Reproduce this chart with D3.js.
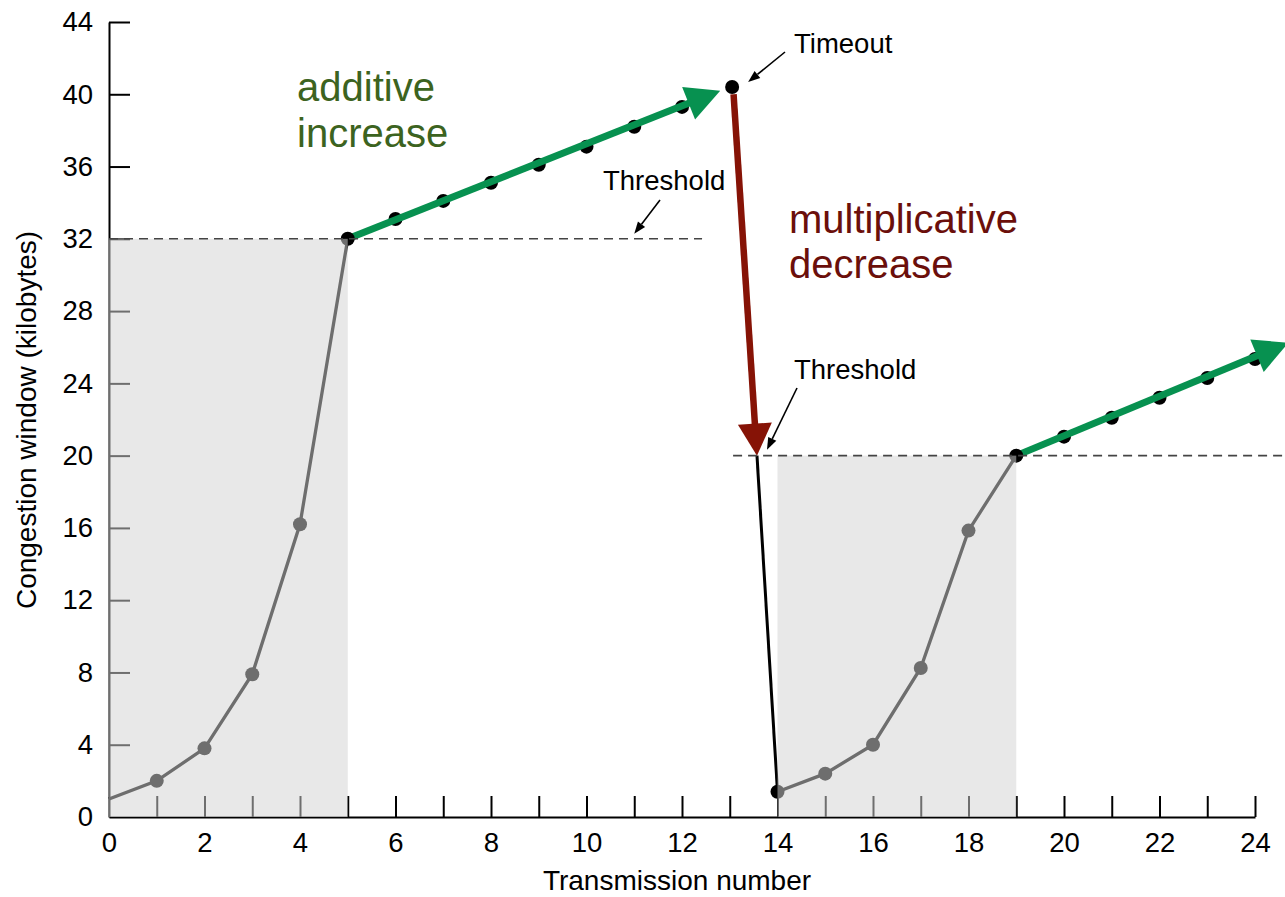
<!DOCTYPE html>
<html><head><meta charset="utf-8">
<script src="https://cdn.jsdelivr.net/npm/d3@7"></script>
<style>
html,body{margin:0;padding:0;background:#fff;}
svg{display:block;font-family:"Liberation Sans",Arial,Helvetica,sans-serif;}
</style>
</head><body>
<svg id="chart" width="1285" height="897"></svg>
<script>
// ---- data ----
const xTickValues = d3.range(0, 25);
const xTickLabels = [0, 2, 4, 6, 8, 10, 12, 14, 16, 18, 20, 22, 24];
const yTickValues = [0, 4, 8, 12, 16, 20, 24, 28, 32, 36, 40, 44];

const slowStart1X = [0, 1, 2, 3, 4, 5];
const slowStart1Y = [1, 2, 3.8, 7.9, 16.2, 32];
const additive1X = [6, 7, 8, 9, 10, 11, 12];
const additive1Y = [33.1, 34.1, 35.1, 36.1, 37.1, 38.2, 39.3];
const timeoutPoint = [13.05, 40.4];
const additive1Arrow = [[5, 32], [12.8, 40.2]];
const decreaseArrow = [[13.08, 40.0], [13.57, 20]];
const dropLine = [[13.57, 20], [14, 1.4]];
const slowStart2X = [14, 15, 16, 17, 18, 19];
const slowStart2Y = [1.4, 2.4, 4.0, 8.25, 15.85, 20];
const additive2X = [20, 21, 22, 23, 24];
const additive2Y = [21.05, 22.1, 23.2, 24.3, 25.35];
const additive2Arrow = [[19, 20], [24.7, 26.25]];
const threshold1 = {value: 32, from: 0, to: 12.42};
const threshold2 = {value: 20, from: 13.07, to: 24.7};
const shade1 = {x0: 0, x1: 5, top: 32};
const shade2 = {x0: 14, x1: 19, top: 20};

// ---- scales ----
const svg = d3.select("#chart");
const x = d3.scaleLinear().domain([0, 24]).range([109, 1255]);
const y = d3.scaleLinear().domain([0, 44]).range([817, 22]);

const GREEN = "#079150", RED = "#861306", TXT_GREEN = "#3c6320", TXT_RED = "#6b0f0b";
const FS = 27.5;

// ---- axes ----
const yAxis = d3.axisLeft(y).tickValues(yTickValues).tickSizeInner(-21).tickSizeOuter(0).tickPadding(16);
const gy = svg.append("g").attr("transform", `translate(${x(0)},0)`).call(yAxis);
const xAxis = d3.axisBottom(x).tickValues(xTickValues).tickSizeInner(-21).tickSizeOuter(0).tickPadding(15)
  .tickFormat(d => d);
const gx = svg.append("g").attr("transform", `translate(0,${y(0)})`).call(xAxis);
gx.selectAll(".tick").filter(d => !xTickLabels.includes(d)).select("text").remove();
gx.selectAll(".tick").filter(d => d === 0).select("line").remove();
gy.selectAll(".tick").filter(d => d === 0).select("line").remove();
[gx, gy].forEach(g => {
  g.attr("font-family", null).attr("font-size", FS);
  g.select(".domain").attr("stroke", "#000").attr("stroke-width", 2);
  g.selectAll(".tick line").attr("stroke", "#000").attr("stroke-width", 2);
  g.selectAll(".tick text").attr("fill", "#000").attr("font-size", FS);
});

// ---- slow start curves & points ----
const line = d3.line().x(d => x(d[0])).y(d => y(d[1]));
const ss1 = slowStart1X.map((v, i) => [v, slowStart1Y[i]]);
const ss2 = slowStart2X.map((v, i) => [v, slowStart2Y[i]]);
const ad1 = additive1X.map((v, i) => [v, additive1Y[i]]);
const ad2 = additive2X.map((v, i) => [v, additive2Y[i]]);

svg.append("path").attr("d", line(ss1)).attr("fill", "none").attr("stroke", "#000").attr("stroke-width", 3.3);
svg.append("path").attr("d", line(ss2)).attr("fill", "none").attr("stroke", "#000").attr("stroke-width", 3.3);
svg.append("path").attr("d", line(dropLine)).attr("fill", "none").attr("stroke", "#000").attr("stroke-width", 3);

const dotR = 7;
const dots = svg.append("g");
dots.selectAll("circle").data(ss1.slice(1, -1).concat(ss2.slice(1, -1)).concat(ad1).concat(ad2))
  .join("circle").attr("cx", d => x(d[0])).attr("cy", d => y(d[1])).attr("r", dotR).attr("fill", "#000");

// ---- arrows ----
function arrow(p0, p1, L, W, width, color) {
  const x0 = x(p0[0]), y0 = y(p0[1]), x1 = x(p1[0]), y1 = y(p1[1]);
  const dx = x1 - x0, dy = y1 - y0, len = Math.hypot(dx, dy);
  const ux = dx / len, uy = dy / len, nx = -uy, ny = ux;
  const bx = x1 - ux * L, by = y1 - uy * L;
  svg.append("line").attr("x1", x0).attr("y1", y0).attr("x2", bx + ux * 2).attr("y2", by + uy * 2)
    .attr("stroke", color).attr("stroke-width", width);
  svg.append("path").attr("d", `M${x1},${y1}L${bx + nx * W / 2},${by + ny * W / 2}L${bx - nx * W / 2},${by - ny * W / 2}Z`)
    .attr("fill", color);
}
arrow(additive1Arrow[0], additive1Arrow[1], 34, 35, 7, GREEN);
arrow(additive2Arrow[0], additive2Arrow[1], 34, 35, 7, GREEN);
arrow(decreaseArrow[0], decreaseArrow[1], 32, 34, 6.5, RED);

// end-point dots on top
const topDots = [ss1[ss1.length - 1], ss2[0], ss2[ss2.length - 1], timeoutPoint];
svg.append("g").selectAll("circle").data(topDots).join("circle")
  .attr("cx", d => x(d[0])).attr("cy", d => y(d[1])).attr("r", dotR).attr("fill", "#000");

// ---- shaded slow-start regions (translucent overlay) ----
[shade1, shade2].forEach(s => {
  svg.append("rect").attr("x", x(s.x0)).attr("y", y(s.top)).attr("width", x(s.x1) - x(s.x0))
    .attr("height", y(0) - y(s.top)).attr("fill", "rgb(211,211,211)").attr("fill-opacity", 0.52);
});

// ---- thresholds ----
[threshold1, threshold2].forEach(t => {
  svg.append("line").attr("x1", x(t.from)).attr("x2", x(t.to)).attr("y1", y(t.value)).attr("y2", y(t.value))
    .attr("stroke", "#444").attr("stroke-width", 1.6).attr("stroke-dasharray", "9,6");
});

// ---- small annotation arrows ----
function smallArrow(x0, y0, x1, y1) {
  const dx = x1 - x0, dy = y1 - y0, len = Math.hypot(dx, dy);
  const ux = dx / len, uy = dy / len, nx = -uy, ny = ux, L = 12, W = 9;
  const bx = x1 - ux * L, by = y1 - uy * L;
  svg.append("line").attr("x1", x0).attr("y1", y0).attr("x2", bx).attr("y2", by).attr("stroke", "#000").attr("stroke-width", 1.6);
  svg.append("path").attr("d", `M${x1},${y1}L${bx + nx * W / 2},${by + ny * W / 2}L${bx - nx * W / 2},${by - ny * W / 2}Z`).attr("fill", "#000");
}
smallArrow(785, 52, x(timeoutPoint[0]) + 16, y(timeoutPoint[1]) - 5);
smallArrow(660, 200, x(11.0), y(threshold1.value) - 5);
smallArrow(797, 388, x(13.78), y(threshold2.value) - 6);

// ---- text ----
const anno = [
  {t: "Timeout", x: 794, y: 53, s: 27.5, c: "#000"},
  {t: "Threshold", x: 603, y: 190, s: 27.5, c: "#000"},
  {t: "Threshold", x: 794, y: 379, s: 27.5, c: "#000"},
  {t: "additive", x: 297, y: 101, s: 40, c: TXT_GREEN},
  {t: "increase", x: 297, y: 147, s: 40, c: TXT_GREEN},
  {t: "multiplicative", x: 789, y: 233, s: 40, c: TXT_RED},
  {t: "decrease", x: 789, y: 278, s: 40, c: TXT_RED}
];
svg.append("g").selectAll("text").data(anno).join("text")
  .attr("x", d => d.x).attr("y", d => d.y).attr("font-size", d => d.s).attr("fill", d => d.c).text(d => d.t);

svg.append("text").attr("x", 677).attr("y", 890).attr("text-anchor", "middle").attr("font-size", 28)
  .text("Transmission number");
svg.append("text").attr("transform", "translate(36,420) rotate(-90)").attr("text-anchor", "middle").attr("font-size", 28)
  .text("Congestion window (kilobytes)");
</script>
</body></html>
